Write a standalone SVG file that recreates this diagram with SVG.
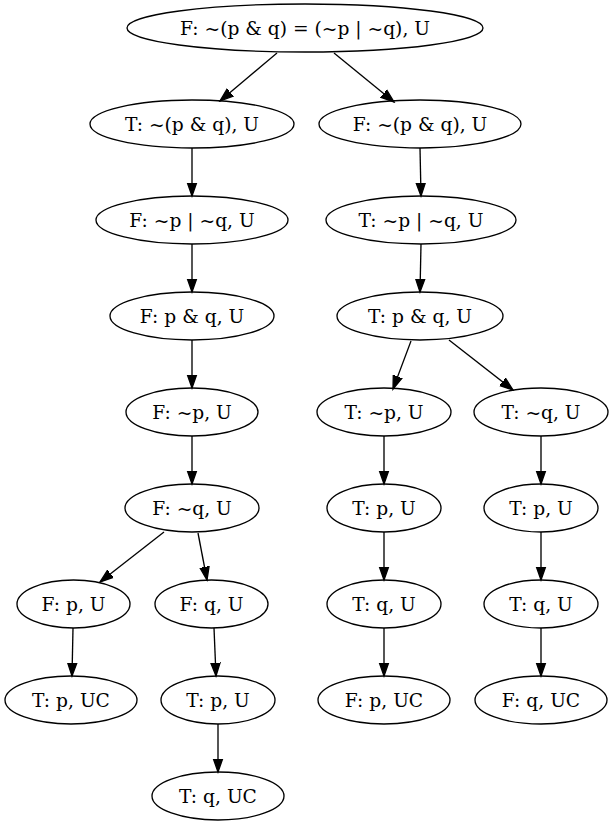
<svg xmlns="http://www.w3.org/2000/svg" width="614" height="827" viewBox="0 0 614 827">
<style>
ellipse{fill:none;stroke:#000;stroke-width:1.33}
text{font-family:"DejaVu Serif",serif;font-size:18.67px;text-anchor:middle;fill:#000}
.e line{stroke:#000;stroke-width:1.33;marker-end:url(#a)}
</style>
<defs>
<marker id="a" markerUnits="userSpaceOnUse" markerWidth="15" markerHeight="12" viewBox="0 -6 15 12" refX="13.3" refY="0" orient="auto">
<path d="M0,-4.67 L13.3,0 L0,4.67 z" fill="#000" stroke="#000" stroke-width="1.33"/>
</marker>
</defs>
<rect width="614" height="827" fill="#fff"/>
<g class="e" id="edges">
<line x1="277" y1="53" x2="220" y2="101"/>
<line x1="334" y1="53" x2="394" y2="102"/>
<line x1="192" y1="148" x2="192" y2="196"/>
<line x1="420" y1="148" x2="421" y2="196"/>
<line x1="192" y1="244" x2="192" y2="292"/>
<line x1="421" y1="244" x2="420" y2="292"/>
<line x1="192" y1="340" x2="192" y2="388"/>
<line x1="411" y1="341" x2="393" y2="389"/>
<line x1="449" y1="340" x2="513" y2="390"/>
<line x1="192" y1="436" x2="192" y2="484"/>
<line x1="384" y1="436" x2="384" y2="484"/>
<line x1="541" y1="436" x2="541" y2="484"/>
<line x1="164" y1="532" x2="100" y2="582"/>
<line x1="198" y1="533" x2="207" y2="580"/>
<line x1="73" y1="628" x2="72" y2="676"/>
<line x1="214" y1="628" x2="216" y2="676"/>
<line x1="218" y1="724" x2="218" y2="772"/>
<line x1="384" y1="532" x2="384" y2="580"/>
<line x1="541" y1="532" x2="541" y2="580"/>
<line x1="384" y1="628" x2="384" y2="676"/>
<line x1="541" y1="628" x2="541" y2="676"/>
</g>
<g id="n0"><ellipse cx="305" cy="28" rx="178" ry="24"/><text x="305" y="34.5">F: ~(p &amp; q) = (~p | ~q), U</text></g>
<g id="n1"><ellipse cx="192" cy="124" rx="102" ry="24"/><text x="192" y="130.5">T: ~(p &amp; q), U</text></g>
<g id="n2"><ellipse cx="420" cy="124" rx="101" ry="24"/><text x="420" y="130.5">F: ~(p &amp; q), U</text></g>
<g id="n3"><ellipse cx="192" cy="220" rx="96" ry="24"/><text x="192" y="226.5">F: ~p | ~q, U</text></g>
<g id="n4"><ellipse cx="421" cy="220" rx="95" ry="24"/><text x="421" y="226.5">T: ~p | ~q, U</text></g>
<g id="n5"><ellipse cx="192" cy="316" rx="82" ry="24"/><text x="192" y="322.5">F: p &amp; q, U</text></g>
<g id="n6"><ellipse cx="420" cy="316" rx="83" ry="24"/><text x="420" y="322.5">T: p &amp; q, U</text></g>
<g id="n7"><ellipse cx="192" cy="412" rx="66" ry="24"/><text x="192" y="418.5">F: ~p, U</text></g>
<g id="n8"><ellipse cx="384" cy="412" rx="67" ry="24"/><text x="384" y="418.5">T: ~p, U</text></g>
<g id="n9"><ellipse cx="541" cy="412" rx="67" ry="24"/><text x="541" y="418.5">T: ~q, U</text></g>
<g id="n10"><ellipse cx="192" cy="508" rx="67" ry="24"/><text x="192" y="514.5">F: ~q, U</text></g>
<g id="n11"><ellipse cx="384" cy="508" rx="57" ry="24"/><text x="384" y="514.5">T: p, U</text></g>
<g id="n12"><ellipse cx="541" cy="508" rx="57" ry="24"/><text x="541" y="514.5">T: p, U</text></g>
<g id="n13"><ellipse cx="73.5" cy="604" rx="56.5" ry="24"/><text x="73.5" y="610.5">F: p, U</text></g>
<g id="n14"><ellipse cx="211.5" cy="604" rx="56.5" ry="24"/><text x="211.5" y="610.5">F: q, U</text></g>
<g id="n15"><ellipse cx="384" cy="604" rx="57" ry="24"/><text x="384" y="610.5">T: q, U</text></g>
<g id="n16"><ellipse cx="541" cy="604" rx="57" ry="24"/><text x="541" y="610.5">T: q, U</text></g>
<g id="n17"><ellipse cx="71" cy="700" rx="66" ry="24"/><text x="71" y="706.5">T: p, UC</text></g>
<g id="n18"><ellipse cx="218" cy="700" rx="57" ry="24"/><text x="218" y="706.5">T: p, U</text></g>
<g id="n19"><ellipse cx="384" cy="700" rx="66" ry="24"/><text x="384" y="706.5">F: p, UC</text></g>
<g id="n20"><ellipse cx="541" cy="700" rx="66" ry="24"/><text x="541" y="706.5">F: q, UC</text></g>
<g id="n21"><ellipse cx="218" cy="796" rx="66" ry="24"/><text x="218" y="802.5">T: q, UC</text></g>
</svg>
